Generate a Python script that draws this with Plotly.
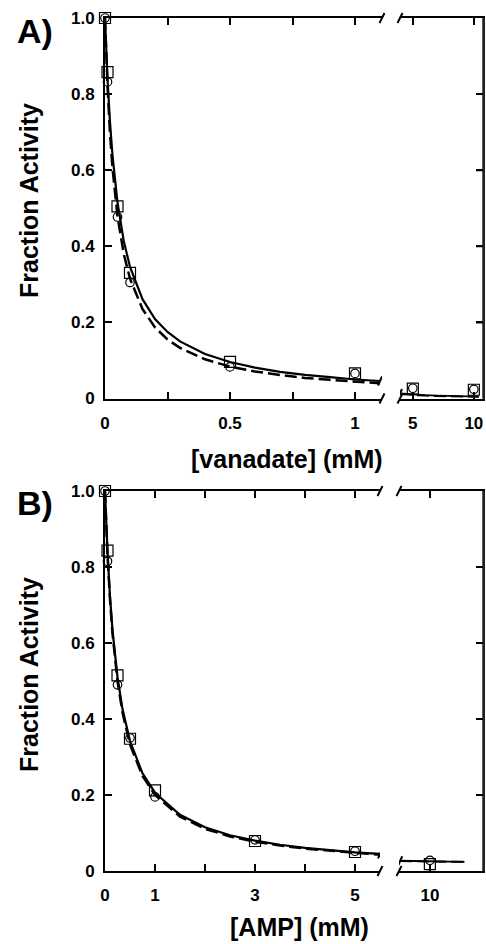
import plotly.graph_objects as go

W, H = 486, 944

# ---------------- Panel A: vanadate ----------------
a_x = [0, 0.01, 0.05, 0.1, 0.5, 1, 5, 10]
a_sq_y = [1.0, 0.858, 0.505, 0.33, 0.096, 0.066, 0.026, 0.023]
a_ci_y = [1.0, 0.832, 0.477, 0.305, 0.083, 0.066, 0.027, 0.024]

a_fit_x = [0, 0.005, 0.01, 0.02, 0.03, 0.05, 0.075, 0.1, 0.15, 0.2, 0.25, 0.3,
           0.4, 0.5, 0.6, 0.7, 0.8, 0.9, 1.0, 1.1]
a_solid_y = [1, 0.914, 0.841, 0.726, 0.639, 0.515, 0.414, 0.346, 0.261, 0.209,
             0.175, 0.150, 0.117, 0.096, 0.081, 0.070, 0.062, 0.056, 0.050, 0.046]
a_dash_y = [1, 0.902, 0.821, 0.697, 0.605, 0.479, 0.380, 0.315, 0.235, 0.187,
            0.155, 0.133, 0.103, 0.084, 0.071, 0.062, 0.054, 0.049, 0.044, 0.040]
a_fit2_x = [3.95, 5, 6, 7, 8, 9, 10, 10.4]
a_solid2_y = [0.0132, 0.0105, 0.0088, 0.0075, 0.0066, 0.0059, 0.0053, 0.0051]
a_dash2_y = [0.0115, 0.0091, 0.0076, 0.0065, 0.0057, 0.0051, 0.0046, 0.0044]

# ---------------- Panel B: AMP ----------------
b_x = [0, 0.05, 0.25, 0.5, 1, 3, 5, 10]
b_sq_y = [1.0, 0.843, 0.515, 0.348, 0.212, 0.079, 0.050, 0.018]
b_ci_y = [1.0, 0.815, 0.490, 0.350, 0.195, 0.082, 0.052, 0.028]

b_fit_x = [0, 0.025, 0.05, 0.1, 0.15, 0.25, 0.35, 0.5, 0.75, 1, 1.5, 2, 2.5,
           3, 3.5, 4, 4.5, 5, 5.5]
b_solid_y = [1, 0.912, 0.839, 0.722, 0.634, 0.510, 0.426, 0.342, 0.257, 0.206,
             0.148, 0.115, 0.094, 0.080, 0.069, 0.061, 0.055, 0.049, 0.045]
b_dash_y = [1, 0.909, 0.833, 0.714, 0.625, 0.5, 0.417, 0.333, 0.25, 0.2,
            0.143, 0.111, 0.091, 0.077, 0.067, 0.059, 0.053, 0.048, 0.043]
b_fit2_x = [7.6, 9, 10, 11, 12, 12.8]
b_solid2_y = [0.027, 0.026, 0.025, 0.025, 0.024, 0.024]
b_dash2_y = [0.026, 0.025, 0.025, 0.024, 0.024, 0.024]

y_ticks = [0, 0.2, 0.4, 0.6, 0.8, 1.0]
y_ticktext = ["0", "0.2", "0.4", "0.6", "0.8", "1.0"]
a_left_ticks = [0, 0.25, 0.5, 0.75, 1]
a_left_text = ["0", "", "0.5", "", "1"]
a_right_ticks = [5, 10]
a_right_text = ["5", "10"]
b_left_ticks = [0, 1, 2, 3, 4, 5]
b_left_text = ["0", "1", "", "3", "", "5"]
b_right_ticks = [10]
b_right_text = ["10"]

A_LEFT_MAX = 1.108
A_RIGHT_RANGE = [3.95, 10.75]
B_LEFT_MAX = 5.5
B_RIGHT_RANGE = [7.5, 14.3]

FONT = "Liberation Sans, Arial, Helvetica, sans-serif"
BLACK = "#000000"

fig = go.Figure()


def add_panel(xs, sq_y, ci_y, fx, sy, dy, fx2, sy2, dy2, xl, yl, xr, yr, left_max):
    # fitted curves (left segment)
    fig.add_trace(go.Scatter(x=fx, y=dy, mode="lines", xaxis=xl, yaxis=yl,
                             line=dict(color=BLACK, width=2.5, dash="12px,5px"),
                             cliponaxis=False, showlegend=False))
    fig.add_trace(go.Scatter(x=fx, y=sy, mode="lines", xaxis=xl, yaxis=yl,
                             line=dict(color=BLACK, width=2.2),
                             cliponaxis=False, showlegend=False))
    # fitted curves (right segment)
    fig.add_trace(go.Scatter(x=fx2, y=dy2, mode="lines", xaxis=xr, yaxis=yr,
                             line=dict(color=BLACK, width=2, dash="12px,5px"),
                             cliponaxis=False, showlegend=False))
    fig.add_trace(go.Scatter(x=fx2, y=sy2, mode="lines", xaxis=xr, yaxis=yr,
                             line=dict(color=BLACK, width=1.8),
                             cliponaxis=False, showlegend=False))
    lx = [v for v in xs if v <= left_max]
    rx = [v for v in xs if v > left_max]
    n = len(lx)
    for (ax_x, ax_y, px, sq, ci) in [(xl, yl, lx, sq_y[:n], ci_y[:n]),
                                     (xr, yr, rx, sq_y[n:], ci_y[n:])]:
        fig.add_trace(go.Scatter(x=px, y=sq, mode="markers", xaxis=ax_x, yaxis=ax_y,
                                 marker=dict(symbol="square-open", size=11,
                                             color=BLACK, line=dict(width=1.2)),
                                 cliponaxis=False, showlegend=False))
        fig.add_trace(go.Scatter(x=px, y=ci, mode="markers", xaxis=ax_x, yaxis=ax_y,
                                 marker=dict(symbol="circle-open", size=8.5,
                                             color=BLACK, line=dict(width=1.2)),
                                 cliponaxis=False, showlegend=False))


add_panel(a_x, a_sq_y, a_ci_y, a_fit_x, a_solid_y, a_dash_y,
          a_fit2_x, a_solid2_y, a_dash2_y, "x", "y", "x2", "y2", A_LEFT_MAX)
add_panel(b_x, b_sq_y, b_ci_y, b_fit_x, b_solid_y, b_dash_y,
          b_fit2_x, b_solid2_y, b_dash2_y, "x3", "y3", "x4", "y4", B_LEFT_MAX)


def px_x(p):
    return p / W


def px_y(p):
    return 1 - p / H


A_DOM_Y = [px_y(398.5), px_y(18)]
B_DOM_Y = [px_y(871), px_y(491)]

tickfont = dict(family=FONT, size=17, color=BLACK, weight="bold")

common_x = dict(showline=True, linecolor=BLACK, linewidth=2, mirror="ticks",
                ticks="inside", ticklen=7, tickwidth=2, tickcolor=BLACK,
                showgrid=False, zeroline=False, tickfont=tickfont,
                ticklabelstandoff=8, tickmode="array", fixedrange=True,
                automargin=False)
common_y = dict(showgrid=False, zeroline=False, range=[0, 1.0], tickmode="array",
                tickvals=y_ticks, ticks="inside", ticklen=7, tickwidth=2,
                tickcolor=BLACK, tickfont=tickfont, fixedrange=True,
                automargin=False, showline=True)

fig.update_layout(
    width=W, height=H,
    margin=dict(l=0, r=0, t=0, b=0, autoexpand=False),
    paper_bgcolor="white", plot_bgcolor="white",
    font=dict(family=FONT, color=BLACK),
    xaxis=dict(common_x, domain=[px_x(105), px_x(382)], range=[0, A_LEFT_MAX],
               tickvals=a_left_ticks, ticktext=a_left_text, anchor="y"),
    xaxis2=dict(common_x, domain=[px_x(400), px_x(483)], range=A_RIGHT_RANGE,
                tickvals=a_right_ticks, ticktext=a_right_text, anchor="y2"),
    xaxis3=dict(common_x, domain=[px_x(105), px_x(380)], range=[0, B_LEFT_MAX],
                tickvals=b_left_ticks, ticktext=b_left_text, anchor="y3"),
    xaxis4=dict(common_x, domain=[px_x(399), px_x(483)], range=B_RIGHT_RANGE,
                tickvals=b_right_ticks, ticktext=b_right_text, anchor="y4"),
    yaxis=dict(common_y, domain=A_DOM_Y, anchor="x", ticktext=y_ticktext,
               linecolor=BLACK, linewidth=2, ticklabelstandoff=5),
    yaxis2=dict(common_y, domain=A_DOM_Y, anchor="x2", side="right",
                ticktext=y_ticktext, showticklabels=False,
                linecolor="#222222", linewidth=1.5),
    yaxis3=dict(common_y, domain=B_DOM_Y, anchor="x3", ticktext=y_ticktext,
                linecolor=BLACK, linewidth=2, ticklabelstandoff=5),
    yaxis4=dict(common_y, domain=B_DOM_Y, anchor="x4", side="right",
                ticktext=y_ticktext, showticklabels=False,
                linecolor="#222222", linewidth=1.5),
)

shapes = []
# right-hand frame line and inward ticks of each panel
for xr, yr in [("x2", "y2"), ("x4", "y4")]:
    shapes.append(dict(type="line", xref=xr + " domain", yref=yr + " domain",
                       x0=1, x1=1, y0=0, y1=1,
                       line=dict(color="#222222", width=1.5)))
    for tv in y_ticks[1:-1]:
        shapes.append(dict(type="line", xref=xr + " domain", yref=yr,
                           xsizemode="pixel", xanchor=1, x0=-7, x1=0,
                           y0=tv, y1=tv, line=dict(color=BLACK, width=2)))

# axis-break slashes (pixel-sized, anchored at the segment ends)
for xl, yl, xr, yr in [("x", "y", "x2", "y2"), ("x3", "y3", "x4", "y4")]:
    for xref, xa in [(xl + " domain", 1), (xr + " domain", 0)]:
        for ya in (0, 1):
            shapes.append(dict(type="line", xref=xref, yref=yl + " domain",
                               xsizemode="pixel", ysizemode="pixel",
                               xanchor=xa, yanchor=ya, x0=-2.5, x1=2.5, y0=-5, y1=5,
                               line=dict(color=BLACK, width=2)))

# slashes on the fitted curves at the break
for ax_x, ax_y, xv, yv in [("x", "y", a_fit_x[-1], a_solid_y[-1]),
                           ("x2", "y2", a_fit2_x[0], a_solid2_y[0]),
                           ("x3", "y3", b_fit_x[-1], b_solid_y[-1]),
                           ("x4", "y4", b_fit2_x[0], b_solid2_y[0])]:
    shapes.append(dict(type="line", xref=ax_x, yref=ax_y,
                       xsizemode="pixel", ysizemode="pixel",
                       xanchor=xv, yanchor=yv, x0=-2, x1=2, y0=-4.5, y1=4.5,
                       line=dict(color=BLACK, width=2)))
fig.update_layout(shapes=shapes)

title_font = dict(family=FONT, size=25, color=BLACK, weight="bold")
label_font = dict(family=FONT, size=34, color=BLACK, weight="bold")
annotations = [
    dict(text="A)", x=px_x(15), y=px_y(31), xanchor="left", yanchor="middle",
         font=label_font),
    dict(text="B)", x=px_x(15), y=px_y(503), xanchor="left", yanchor="middle",
         font=label_font),
    dict(text="Fraction Activity", textangle=-90, x=px_x(29), y=px_y(201),
         xanchor="center", yanchor="middle", font=title_font),
    dict(text="Fraction Activity", textangle=-90, x=px_x(29), y=px_y(675),
         xanchor="center", yanchor="middle", font=title_font),
    dict(text="[vanadate] (mM)", x=px_x(287), y=px_y(459),
         xanchor="center", yanchor="middle", font=title_font),
    dict(text="[AMP] (mM)", x=px_x(299), y=px_y(927),
         xanchor="center", yanchor="middle", font=title_font),
]
for a in annotations:
    a.update(xref="paper", yref="paper", showarrow=False)
fig.update_layout(annotations=annotations)

# remove the browser's default 8px body margin so the figure fills the window
fig.write_html("out.html",
               config={"displayModeBar": False, "staticPlot": True},
               post_script="document.body.style.margin='0';"
                           "document.body.style.overflow='hidden';")
